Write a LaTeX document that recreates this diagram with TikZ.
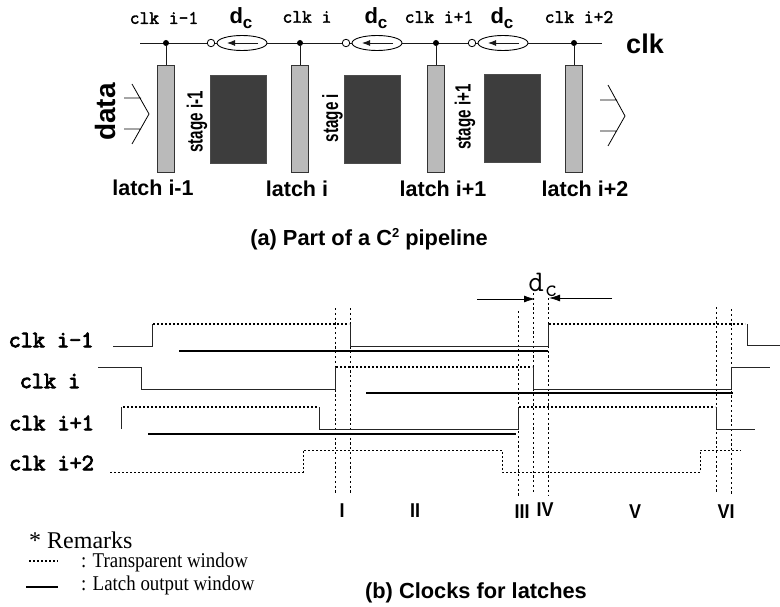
\documentclass[tikz,border=0pt]{standalone}
\usepackage{fontspec}
\setmainfont{Liberation Serif}
\setsansfont{Liberation Sans}
\setmonofont[FakeBold=2]{Latin Modern Mono}
\newfontfamily\ttlight{Latin Modern Mono}
\newfontfamily\ttheavy[FakeBold=3.5]{Latin Modern Mono}
\usetikzlibrary{arrows.meta,shapes.geometric}
\newcommand{\fs}[1]{\fontsize{#1}{#1}\selectfont}
\tikzset{
  latchbox/.style={draw=black!80,fill=black!27,line width=1pt,minimum width=17pt,minimum height=107pt,inner sep=0},
  stagebox/.style={draw=black!70,fill=black!76,line width=.5pt,minimum width=56pt,minimum height=88pt,inner sep=0},
  delaybox/.style={draw=black,ellipse,fill=white,line width=.9pt,minimum width=50pt,minimum height=15pt,inner sep=0},
  invc/.style={draw=black,circle,fill=white,line width=.8pt,minimum size=7.5pt,inner sep=0},
  junction/.style={fill=black,circle,minimum size=6pt,inner sep=0},
  wire/.style={line width=.9pt,black!90},
  sig/.style={line width=1pt,black!85},
  trans/.style={line width=1.6pt,dash pattern=on 1.8pt off 2.2pt,black},
  trans2/.style={line width=.9pt,dash pattern=on 1.8pt off 2.2pt,black},
  outw/.style={line width=1.8pt,black},
  guide/.style={line width=.9pt,dash pattern=on 2.2pt off 2.6pt,black},
  toplab/.style={font=\ttfamily\fs{19},inner sep=0},
  rowlab/.style={font=\ttheavy\fs{23.5},inner sep=0},
  latlab/.style={font=\sffamily\bfseries\fs{21.5},inner sep=0},
  stagelab/.style={font=\sffamily\bfseries\fs{22},inner sep=0,rotate=90},
  dclab/.style={font=\sffamily\bfseries\fs{22},inner sep=0},
  numlab/.style={font=\sffamily\bfseries\fs{20},inner sep=0},
  captext/.style={font=\sffamily\bfseries\fs{21.8},inner sep=0},
  remtext/.style={font=\rmfamily\fs{21},inner sep=0,anchor=west},
}
\begin{document}
\begin{tikzpicture}[x=1pt,y=-1pt]
\useasboundingbox (0,0) rectangle (780,607);
% top pipeline
\coordinate (cl) at (140,43); \coordinate (cr) at (602,43);
\draw[wire] (cl) -- (cr);
\foreach \n/\x in {a/166,b/300,c/436,d/574}{
  \node[latchbox] (l\n) at (\x-.5,119.5) {};
  \node[junction] (j\n) at (\x,43) {};
  \draw[wire] (j\n) -- (l\n.north -| j\n);
}
\foreach \n/\x/\y in {a/238/119,b/372/119,c/512.5/118}{
  \node[stagebox] (s\n) at (\x,\y) {};
}
\foreach \n/\x in {a/242,b/377,c/503}{
  \node[delaybox] (e\n) at (\x,43) {};
  \node[invc] (i\n) at (\x-31,43) {};
  \coordinate (ar\n) at (\x+16,43); \coordinate (al\n) at (\x-15,43);
  \draw[wire,-{Latex[length=8pt,width=6pt]}] (ar\n) -- (al\n);
  \node[dclab] (dc\n) at (\x-1,18) {d\raisebox{-5pt}{\fs{17}c}};
}
\node[toplab] (t1) at (164,18) {clk i-1};
\node[toplab] (t2) at (307,17) {clk i};
\node[toplab] (t3) at (439,17) {clk i+1};
\node[toplab] (t4) at (579,17) {clk i+2};
\node[font=\sffamily\bfseries\fs{27},inner sep=0] (clk) at (645,44) {clk};
\node[font=\sffamily\bfseries\fs{28},inner sep=0,rotate=90] (data) at (105,112) {data};
\node[latlab] (la) at (153,188) {latch i-1};
\node[latlab] (lb) at (297,189) {latch i};
\node[latlab] (lc) at (443,189) {latch i+1};
\node[latlab] (ld) at (585,189) {latch i+2};
\node[stagelab] (sta) at (197,122) {\scalebox{.69}[1]{stage i-1}};
\node[stagelab] (stb) at (332.5,118) {\scalebox{.69}[1]{stage i}};
\node[stagelab] (stc) at (465,117) {\scalebox{.69}[1]{stage i+1}};
% chevrons
\coordinate (c1) at (132,84); \coordinate (c2) at (149,114); \coordinate (c3) at (132,144);
\coordinate (c4) at (124,98); \coordinate (c5) at (141,98); \coordinate (c6) at (124,129); \coordinate (c7) at (141,129);
\draw[line width=.8pt] (c1) -- (c2) -- (c3) (c4) -- (c5) (c6) -- (c7);
\coordinate (d1) at (608,85); \coordinate (d2) at (625,116); \coordinate (d3) at (608,146);
\coordinate (d4) at (600,100); \coordinate (d5) at (617,100); \coordinate (d6) at (600,131); \coordinate (d7) at (617,131);
\draw[line width=.8pt] (d1) -- (d2) -- (d3) (d4) -- (d5) (d6) -- (d7);
\node[captext] (capa) at (369,239) {(a) Part of a C\raisebox{8pt}{\fs{13}2} pipeline};
% guides
\foreach \n/\x/\a/\b in {ga/335/308/493,gb/350/308/493,gc/518/311/496,gd/533/293/494,ge/548/293/496,gf/716/307/492,gg/731/309/494}{
  \coordinate (\n t) at (\x,\a); \coordinate (\n b) at (\x,\b);
  \draw[guide] (\n t) -- (\n b);
}
% clk i-1
\draw[sig] (113,346) -- (152,346) -- (152,324);
\draw[trans] (153,324) -- (349,324);
\draw[sig] (350,324) -- (350,346) -- (548,346) -- (548,324);
\draw[trans] (549,324) -- (745,324);
\draw[sig] (747,324) -- (747,345) -- (780,345);
\draw[outw] (179,351) -- (548,351);
% clk i
\draw[sig] (98,367) -- (141,367) -- (141,389) -- (335,389) -- (335,367);
\draw[trans] (336,367) -- (532,367);
\draw[sig] (533,367) -- (533,389) -- (731,389) -- (731,367) -- (770,367);
\draw[outw] (366,393) -- (733,393);
% clk i+1
\draw[sig] (121,429) -- (121,407);
\draw[trans] (123,407) -- (318,407);
\draw[sig] (319,407) -- (319,429) -- (518,429) -- (518,407);
\draw[trans] (519,407) -- (715,407);
\draw[sig] (716,407) -- (716,429) -- (755,429);
\draw[outw] (148,434) -- (516,434);
% clk i+2
\draw[trans2] (110,472) -- (303,472) -- (303,450) -- (502,450) -- (502,472) -- (700,472) -- (700,450) -- (741,450);
\node[rowlab] (r1) at (51,340) {clk i-1};
\node[rowlab] (r2) at (50,381) {clk i};
\node[rowlab] (r3) at (51.5,423) {clk i+1};
\node[rowlab] (r4) at (51.5,463) {clk i+2};
% dc dimension
\node[font=\ttlight\fs{30},inner sep=0] (dcd) at (536,282) {d};
\node[font=\ttlight\fs{24},inner sep=0] (dcc) at (551,291) {c};
\coordinate (dl) at (477,299); \coordinate (dla) at (535,299);
\coordinate (dr) at (612,298); \coordinate (dra) at (549,298);
\draw[line width=.8pt,-{Latex[length=11pt,width=7pt]}] (dl) -- (dla);
\draw[line width=.8pt,-{Latex[length=11pt,width=7pt]}] (dr) -- (dra);
% numerals
\node[numlab] (n1) at (342,511) {\scalebox{.9}[1]{I}};
\node[numlab] (n2) at (415,511) {\scalebox{.9}[1]{II}};
\node[numlab] (n3) at (522,512) {\scalebox{.9}[1]{III}};
\node[numlab] (n4) at (545,510) {\scalebox{.9}[1]{IV}};
\node[numlab] (n5) at (635,512) {\scalebox{.9}[1]{V}};
\node[numlab] (n6) at (726,512) {\scalebox{.9}[1]{VI}};
% remarks
\node[remtext,font=\rmfamily\fs{24}] (rm) at (29,540) {* Remarks};
\coordinate (s1) at (29,561); \coordinate (s2) at (58,561);
\coordinate (s3) at (26,587); \coordinate (s4) at (58,587);
\draw[trans] (s1) -- (s2);
\draw[line width=1.8pt] (s3) -- (s4);
\node[remtext] (rt) at (81,562) {\scalebox{.9}[1]{: Transparent window}};
\node[remtext] (rl) at (81,585) {\scalebox{.9}[1]{: Latch output window}};
\node[captext] (capb) at (476,593) {(b) Clocks for latches};
\end{tikzpicture}
\end{document}
